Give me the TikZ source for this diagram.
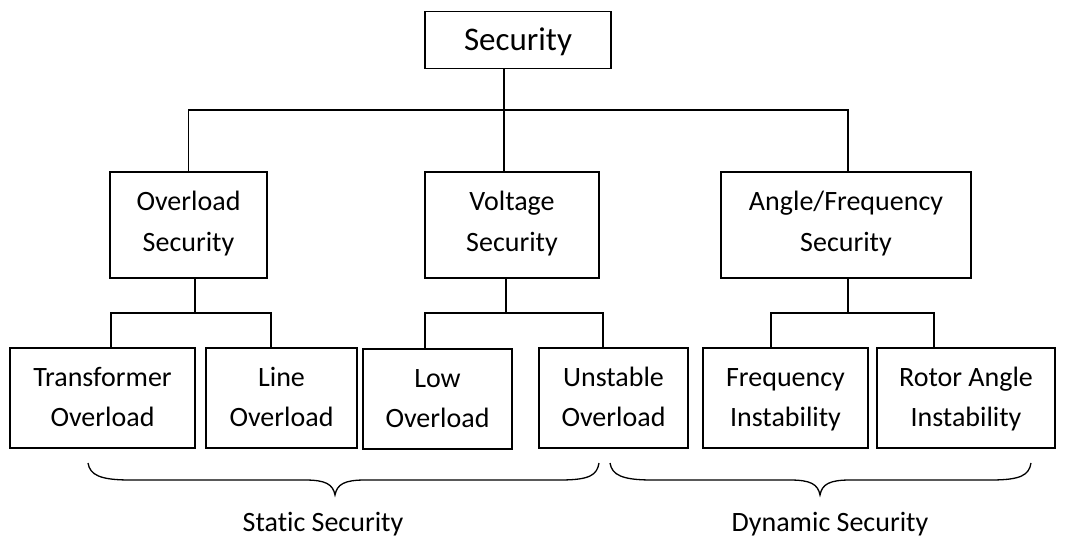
\documentclass[tikz,border=0pt]{standalone}
\usepackage{fontspec}
\setmainfont{Carlito}[RawFeature=-liga]
\begin{document}
\begin{tikzpicture}[x=1pt,y=-1pt,
  box/.style={draw, line width=1.5pt, inner sep=0pt, align=center, font=\fontsize{28}{40}\selectfont},
  conn/.style={line width=1.5pt},
  brace/.style={line width=1.3pt},
  lbl/.style={inner sep=0pt, font=\fontsize{28}{34}\selectfont}]
\useasboundingbox (0,0) rectangle (1073,540);
% level 0
\node[box, text height=30pt, text depth=8pt, font=\fontsize{33}{40}\selectfont, minimum width=186pt, minimum height=57pt] (sec) at (518,40) {Security};
% level 1
\node[box, text height=60pt, text depth=8pt, minimum width=157pt, minimum height=106pt] (ovl) at (188.5,225) {Overload\\Security};
\node[box, text height=60pt, text depth=8pt, minimum width=174pt, minimum height=106pt] (vol) at (512,225) {Voltage\\Security};
\node[box, text height=60pt, text depth=8pt, minimum width=250pt, minimum height=106pt] (ang) at (846,225) {Angle/Frequency\\Security};
% level 2
\node[box, text height=62pt, text depth=5pt, minimum width=185pt, minimum height=100pt] (tra) at (102.5,398) {Transformer\\Overload};
\node[box, text height=62pt, text depth=5pt, minimum width=151pt, minimum height=100pt] (lin) at (281.5,398) {Line\\Overload};
\node[box, text height=62pt, text depth=5pt, minimum width=149pt, minimum height=100pt] (low) at (437.5,399) {Low\\Overload};
\node[box, text height=62pt, text depth=5pt, minimum width=149pt, minimum height=100pt] (uns) at (613.5,398) {Unstable\\Overload};
\node[box, text height=62pt, text depth=5pt, minimum width=165pt, minimum height=100pt] (fre) at (785.5,398) {Frequency\\Instability};
\node[box, text height=62pt, text depth=5pt, minimum width=178pt, minimum height=100pt] (rot) at (966,398) {Rotor Angle\\Instability};
% bus coordinates
\coordinate (b0) at (504,110);
\coordinate (b1) at (195,313);
\coordinate (b1l) at (111,313);
\coordinate (b1r) at (271,313);
\coordinate (b2) at (506,313);
\coordinate (b2l) at (425,313);
\coordinate (b2r) at (603,313);
\coordinate (b3) at (848,313);
\coordinate (b3l) at (771,313);
\coordinate (b3r) at (934,313);
% connectors level 0 -> 1
\draw[conn] (sec.south -| b0) -- (vol.north -| b0);
\draw[conn] (ovl.north) |- (b0) -| (ang.north -| b3);
% Overload -> children
\draw[conn] (ovl.south -| b1) -- (b1);
\draw[conn] (tra.north -| b1l) -- (b1l) -- (b1r) -- (lin.north -| b1r);
% Voltage -> children
\draw[conn] (vol.south -| b2) -- (b2);
\draw[conn] (low.north -| b2l) -- (b2l) -- (b2r) -- (uns.north -| b2r);
% Angle -> children
\draw[conn] (ang.south -| b3) -- (b3);
\draw[conn] (fre.north -| b3l) -- (b3l) -- (b3r) -- (rot.north -| b3r);
% braces
\coordinate (s1) at (88,463);
\coordinate (s2) at (335,495);
\coordinate (s3) at (599,463);
\draw[brace] (s1) .. controls (90,475) and (100,480) .. (130,480) -- (305,480)
  .. controls (325,480) and (333,484) .. (s2)
  .. controls (337,484) and (345,480) .. (365,480) -- (560,480)
  .. controls (590,480) and (597,475) .. (s3);
\coordinate (d1) at (610,463);
\coordinate (d2) at (820,495);
\coordinate (d3) at (1031,463);
\draw[brace] (d1) .. controls (612,475) and (622,480) .. (652,480) -- (790,480)
  .. controls (810,480) and (818,484) .. (d2)
  .. controls (822,484) and (830,480) .. (850,480) -- (991,480)
  .. controls (1021,480) and (1029,475) .. (d3);
% labels
\node[lbl] (stat) at (323,524) {Static Security};
\node[lbl] (dyn) at (830,524) {Dynamic Security};
\end{tikzpicture}
\end{document}
